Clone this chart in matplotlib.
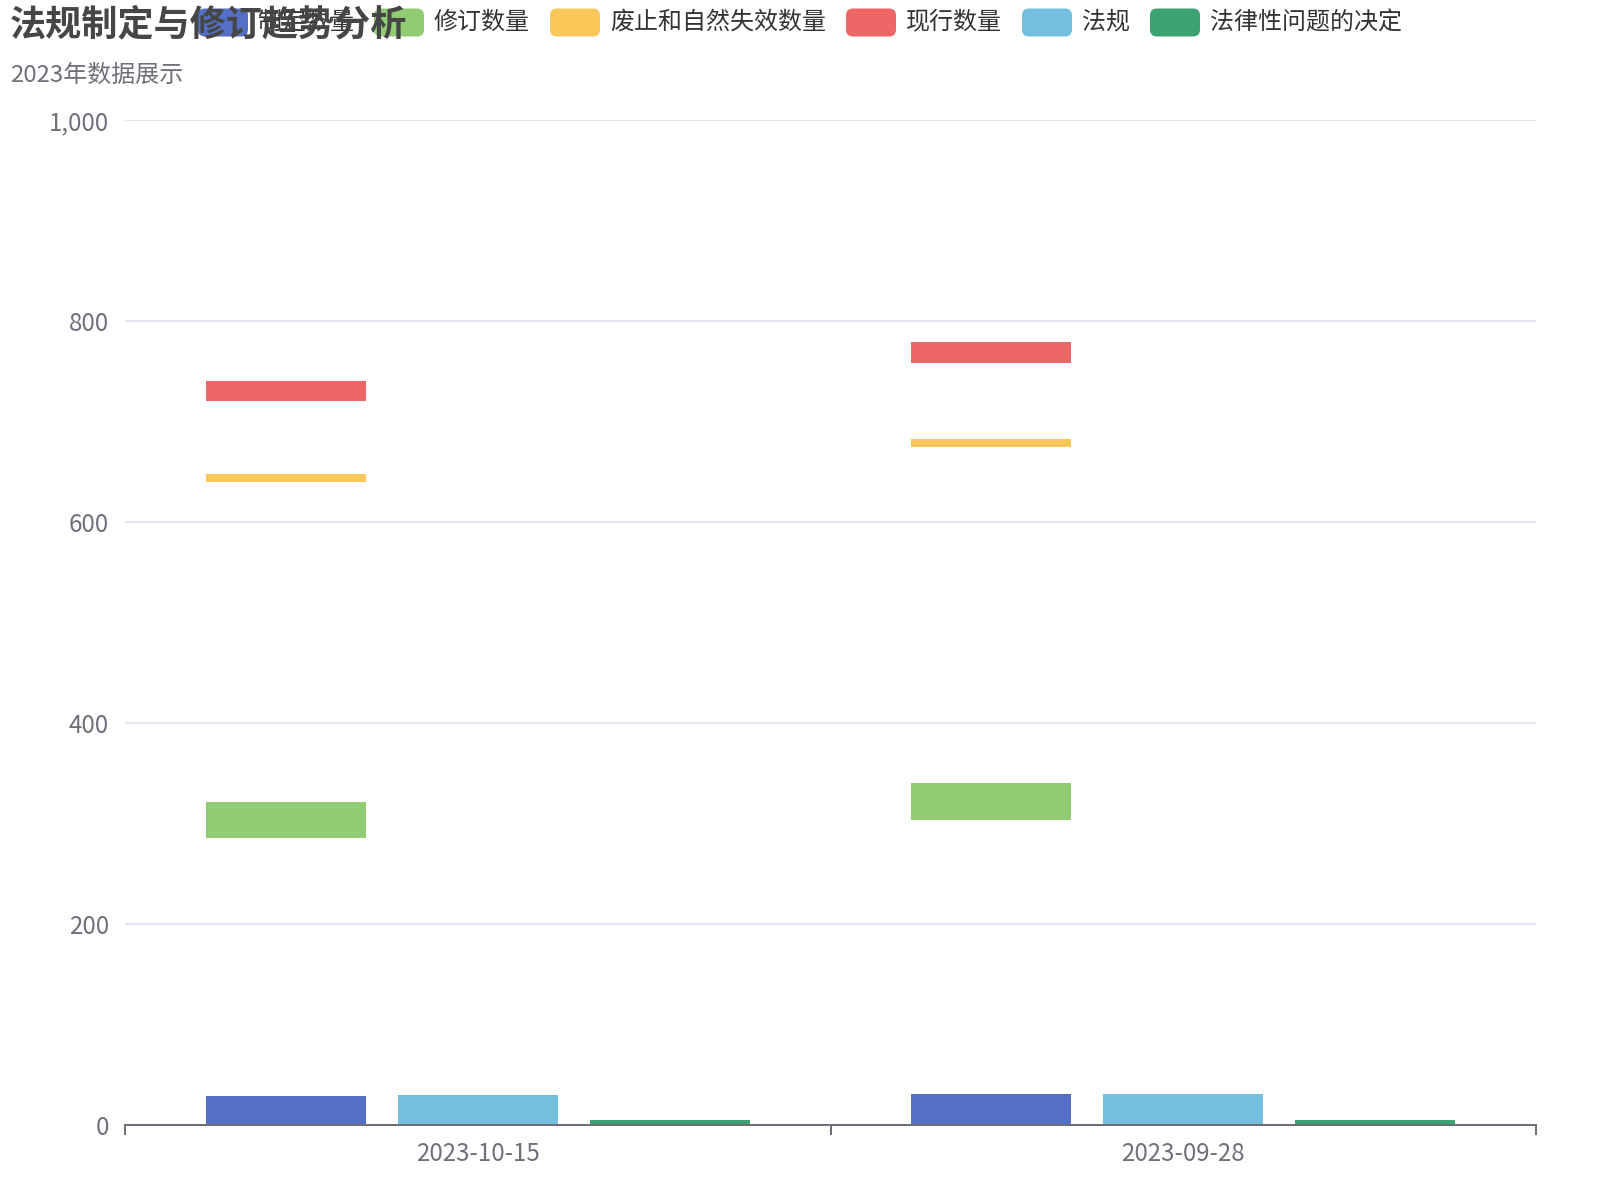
import matplotlib
matplotlib.use("Agg")
import matplotlib.pyplot as plt
from matplotlib.patches import FancyBboxPatch
import numpy as np

plt.rcParams['font.family'] = ['Noto Sans CJK SC', 'DejaVu Sans']

# data
dates = ['2023-10-15', '2023-09-28']
zhiding = [29, 31]                      # 制定数量
xiuding_low = [286, 303]                # 修订数量 (floating segment)
xiuding_high = [321, 340]
feizhi_low = [640, 675]                 # 废止和自然失效数量
feizhi_high = [648, 683]
xianxing_low = [720, 758]               # 现行数量
xianxing_high = [740, 779]
fagui = [30, 31]                        # 法规
jueding = [5, 5]                        # 法律性问题的决定

names = ['制定数量', '修订数量', '废止和自然失效数量', '现行数量', '法规', '法律性问题的决定']
colors = ['#5470c6', '#91cc75', '#fac858', '#ee6666', '#73c0de', '#3ba272']

W, H = 1600, 1200
fig = plt.figure(figsize=(16, 12), dpi=100)
fig.patch.set_facecolor('white')

# plot area in pixels
left, right, top, bottom = 125, 1536, 120, 1125
ax = fig.add_axes([left / W, 1 - bottom / H, (right - left) / W, (bottom - top) / H])

x = np.arange(len(dates))
bw = 0.227
off = 0.272

ax.bar(x - off, zhiding, bw, color=colors[0], zorder=3)
ax.bar(x - off, np.subtract(xiuding_high, xiuding_low), bw, bottom=xiuding_low, color=colors[1], zorder=3)
ax.bar(x - off, np.subtract(feizhi_high, feizhi_low), bw, bottom=feizhi_low, color=colors[2], zorder=3)
ax.bar(x - off, np.subtract(xianxing_high, xianxing_low), bw, bottom=xianxing_low, color=colors[3], zorder=3)
ax.bar(x, fagui, bw, color=colors[4], zorder=3)
ax.bar(x + off, jueding, bw, color=colors[5], zorder=3)

ax.set_xlim(-0.5, len(dates) - 0.5)
ax.set_ylim(0, 1000)
ax.set_yticks(range(0, 1001, 200))
ax.set_yticklabels([f'{v:,}' for v in range(0, 1001, 200)])
ax.yaxis.grid(True, color='#E0E6F1', linewidth=1.44, zorder=0)
ax.tick_params(axis='y', length=0, pad=11.5, labelsize=17.3, labelcolor='#6E7079')

# category boundaries get tick marks, labels at centres
ax.set_xticks(np.arange(-0.5, len(dates)))
ax.set_xticklabels([])
ax.set_xticks(x, minor=True)
ax.set_xticklabels(dates, minor=True)
ax.tick_params(axis='x', which='major', length=7.2, width=1.44, color='#6E7079', direction='out')
ax.tick_params(axis='x', which='minor', length=0, pad=11.5, labelsize=17.3, labelcolor='#6E7079')

for s in ['top', 'right', 'left']:
    ax.spines[s].set_visible(False)
ax.spines['bottom'].set_color('#6E7079')
ax.spines['bottom'].set_linewidth(1.44)
ax.spines['bottom'].set_zorder(4)

# overlay in pixel coordinates for title and legend
ov = fig.add_axes([0, 0, 1, 1])
ov.set_xlim(0, W)
ov.set_ylim(H, 0)
ov.axis('off')
ov.patch.set_visible(False)

fs_px = 24
fs = fs_px * 0.72
renderer = fig.canvas.get_renderer()
widths = []
for n in names:
    t = ov.text(0, 0, n, fontsize=fs)
    widths.append(t.get_window_extent(renderer).width)
    t.remove()

iw, ih, gap, pad = 50, 28, 20, 10
total = sum(iw + pad + w for w in widths) + gap * (len(names) - 1)
cx = (W - total) / 2
cy = 22.5
for n, c, w in zip(names, colors, widths):
    ov.add_patch(FancyBboxPatch((cx, cy - ih / 2), iw, ih,
                                boxstyle='round,pad=0,rounding_size=7',
                                facecolor=c, edgecolor='none', zorder=2))
    ov.text(cx + iw + pad, cy, n, fontsize=fs, color='#333333', va='center', ha='left', zorder=2)
    cx += iw + pad + w + gap

ov.text(10, 24.5, '法规制定与修订趋势分析', fontsize=26, fontweight='bold',
        color='#464646', va='center', ha='left', zorder=5)
ov.text(10, 75, '2023年数据展示', fontsize=fs, color='#6E7079', va='center', ha='left', zorder=5)

fig.savefig('out.png', dpi=100)
